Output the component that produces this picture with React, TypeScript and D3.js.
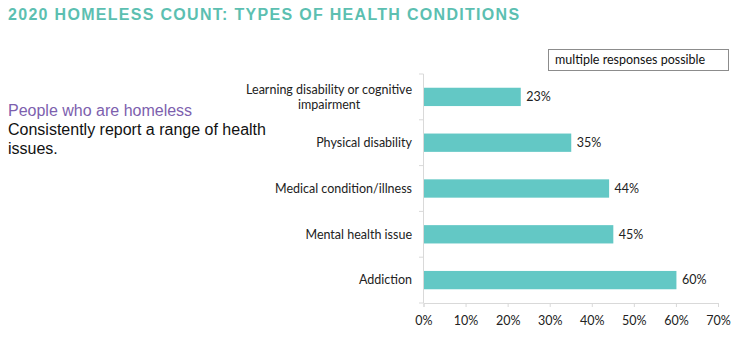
import React, { useEffect, useRef } from 'react'
import * as d3 from 'd3'

const categories = [
  'Learning disability or cognitive impairment',
  'Physical disability',
  'Medical condition/illness',
  'Mental health issue',
  'Addiction'
]
const labelLines = [
  ['Learning disability or cognitive', 'impairment'],
  ['Physical disability'],
  ['Medical condition/illness'],
  ['Mental health issue'],
  ['Addiction']
]
const values = [0.23, 0.35, 0.44, 0.45, 0.6]
const xTicks = [0, 0.1, 0.2, 0.3, 0.4, 0.5, 0.6, 0.7]

const W = 750
const H = 352

export default function App() {
  const ref = useRef<SVGSVGElement>(null)

  useEffect(() => {
    const svg = d3.select(ref.current)
    svg.selectAll('*').remove()

    const labelFont = 'Lato, "Open Sans", sans-serif'

    // title
    svg.append('text')
      .attr('x', 8)
      .attr('y', 20)
      .style('font-family', '"Liberation Sans", Arial, sans-serif')
      .style('font-size', '16px')
      .style('font-weight', 'bold')
      .style('letter-spacing', '1.3px')
      .style('fill', '#5cbfb1')
      .text('2020 HOMELESS COUNT: TYPES OF HEALTH CONDITIONS')

    // side note
    const note = svg.append('text')
      .style('font-family', '"Liberation Sans", Arial, sans-serif')
      .style('font-size', '16px')
    note.append('tspan').attr('x', 8).attr('y', 116).style('fill', '#7d5fae').text('People who are homeless')
    note.append('tspan').attr('x', 8).attr('y', 135).style('fill', '#111').text('Consistently report a range of health')
    note.append('tspan').attr('x', 8).attr('y', 154).style('fill', '#111').text('issues.')

    // legend box
    svg.append('rect')
      .attr('x', 548.5).attr('y', 49.5)
      .attr('width', 180).attr('height', 21)
      .attr('fill', 'white').attr('stroke', '#8c8c8c')
    svg.append('text')
      .attr('x', 555).attr('y', 64)
      .style('font-family', labelFont)
      .style('font-size', '12.5px')
      .style('fill', '#111')
      .text('multiple responses possible')

    const x = d3.scaleLinear().domain([0, 0.7]).range([423.5, 718])
    const y = d3.scaleBand().domain(categories).range([74, 303]).paddingInner(0.6).paddingOuter(0.3)

    const g = svg.append('g')

    // x axis
    const xAxis = g.append('g')
      .attr('transform', `translate(0,${303})`)
      .call(d3.axisBottom(x).tickValues(xTicks).tickFormat(d3.format('.0%')).tickSize(4).tickPadding(9))
    xAxis.select('.domain').attr('stroke', '#d9d9d9')
    xAxis.selectAll('.tick line').attr('stroke', '#d9d9d9')
    xAxis.selectAll('.tick text')
      .style('font-family', labelFont)
      .style('font-size', '12.5px')
      .style('fill', '#222')

    // y axis line + category ticks
    g.append('line')
      .attr('x1', 423.5).attr('x2', 423.5)
      .attr('y1', 74).attr('y2', 303)
      .attr('stroke', '#d9d9d9')
    const bandEdges = d3.range(categories.length + 1).map(i => 74 + i * y.step())
    g.selectAll('.ytick')
      .data(bandEdges)
      .enter().append('line')
      .attr('x1', 419).attr('x2', 423.5)
      .attr('y1', d => d).attr('y2', d => d)
      .attr('stroke', '#d9d9d9')

    // bars
    g.selectAll('.bar')
      .data(categories)
      .enter().append('rect')
      .attr('x', x(0) + 0.5)
      .attr('y', d => y(d)!)
      .attr('height', y.bandwidth())
      .attr('width', (d, i) => x(values[i]) - x(0))
      .attr('fill', '#63c8c5')

    // value labels
    g.selectAll('.val')
      .data(categories)
      .enter().append('text')
      .attr('x', (d, i) => x(values[i]) + 6)
      .attr('y', d => y(d)! + y.bandwidth() / 2)
      .attr('dy', '0.35em')
      .style('font-family', labelFont)
      .style('font-size', '12.5px')
      .style('fill', '#222')
      .text((d, i) => d3.format('.0%')(values[i]))

    // category labels, second line centred under the first
    categories.forEach((c, i) => {
      const lines = labelLines[i]
      const cy = y(c)! + y.bandwidth() / 2
      const t = g.append('text')
        .style('font-family', labelFont)
        .style('font-size', '12.5px')
        .style('fill', '#222')
      const first = t.append('tspan')
        .attr('x', 412)
        .attr('text-anchor', 'end')
        .attr('y', cy - (lines.length - 1) * 7.5)
        .attr('dy', '0.35em')
        .text(lines[0])
      if (lines.length > 1) {
        const w = (first.node() as SVGTSpanElement).getComputedTextLength()
        t.append('tspan')
          .attr('x', 412 - w / 2)
          .attr('text-anchor', 'middle')
          .attr('y', cy + 7.5)
          .attr('dy', '0.35em')
          .text(lines[1])
      }
    })
  }, [])

  return (
    <div style={{ position: 'absolute', left: 0, top: 0 }}>
      <svg ref={ref} width={W} height={H} style={{ display: 'block', background: 'white' }} />
    </div>
  )
}
